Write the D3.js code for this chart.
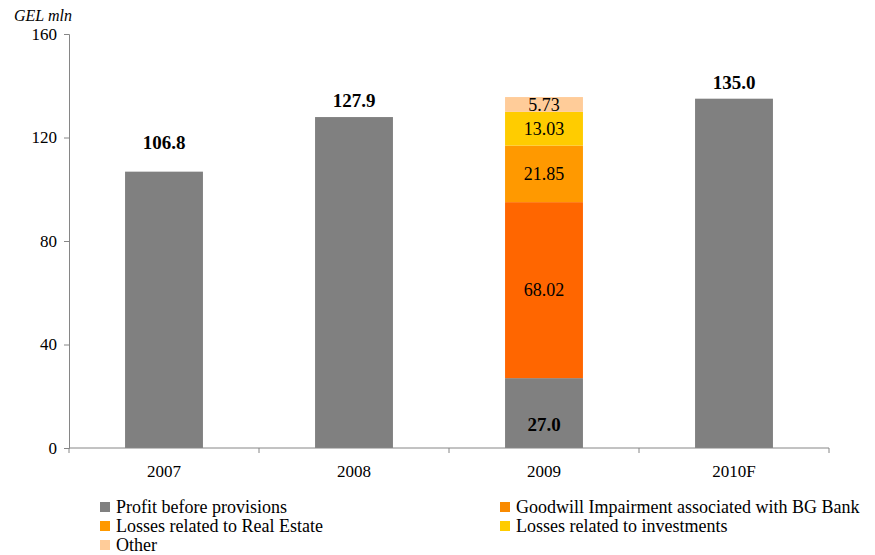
<!DOCTYPE html>
<html><head><meta charset="utf-8">
<script src="https://cdn.jsdelivr.net/npm/d3@7/dist/d3.min.js"></script>
<style>
body{margin:0;background:#fff;}
</style></head>
<body><svg id="chart" width="875" height="555"></svg>
<script>
// ---- data ----
const categories = ["2007","2008","2009","2010F"];
const profitBeforeProvisions = [106.8, 127.9, 27.0, 135.0];
const goodwillImpairment = [0, 0, 68.02, 0];
const lossesRealEstate = [0, 0, 21.85, 0];
const lossesInvestments = [0, 0, 13.03, 0];
const otherLosses = [0, 0, 5.73, 0];
const seriesNames = ["Profit before provisions","Goodwill Impairment associated with BG Bank","Losses related to Real Estate","Losses related to investments","Other"];
const yTicks = [0, 40, 80, 120, 160];
const totalLabels = ["106.8","127.9","27.0","135.0"];

// ---- style ----
const FONT = "'Liberation Serif', 'Times New Roman', Times, serif";
const barColors = ["#808080","#FF6600","#FF9900","#FFCC00","#FFCC99"];
const legendColors = ["#808080","#F98A00","#FF9900","#FFCC00","#FFCC99"];
const labelGap = [23, 10, 0, 10];

const svg = d3.select("#chart");
const margin = {left:69, top:34, right:46, bottom:107};
const W = 875, H = 555;
const x = d3.scaleBand().domain(categories).range([margin.left, margin.left + 760]).paddingInner(0.59).paddingOuter(0.295);
const y = d3.scaleLinear().domain([0,160]).range([H - margin.bottom, margin.top]);

const seriesArrays = [profitBeforeProvisions, goodwillImpairment, lossesRealEstate, lossesInvestments, otherLosses];
const rows = categories.map((c,i)=>{const r={cat:c}; seriesNames.forEach((s,j)=>r[s]=seriesArrays[j][i]); return r;});
const stack = d3.stack().keys(seriesNames)(rows);

// bars
stack.forEach((layer,j)=>{
  svg.append("g").selectAll("rect").data(layer.filter(d=>d[1]-d[0]>0)).join("rect")
    .attr("x", d=>x(d.data.cat)).attr("width", x.bandwidth())
    .attr("y", d=>y(d[1])).attr("height", d=>y(d[0])-y(d[1]))
    .attr("fill", barColors[j]);
});

// segment labels (2009 losses)
stack.slice(1).forEach(layer=>{
  svg.append("g").selectAll("text").data(layer.filter(d=>d[1]-d[0]>0)).join("text")
    .attr("x", d=>x(d.data.cat)+x.bandwidth()/2)
    .attr("y", d=>(y(d[0])+y(d[1]))/2)
    .attr("dy","0.35em").attr("text-anchor","middle")
    .style("font-family",FONT).style("font-size","18px")
    .text(d=>(d[1]-d[0]).toFixed(2));
});

// total labels
svg.append("g").selectAll("text").data(categories).join("text")
  .attr("x", c=>x(c)+x.bandwidth()/2)
  .attr("y", (c,i)=> c==="2009" ? y(0)-17 : y(profitBeforeProvisions[i]) - labelGap[i])
  .attr("text-anchor","middle")
  .style("font-family",FONT).style("font-size","19px").style("font-weight","bold")
  .text((c,i)=>totalLabels[i]);

// y axis
const yAxis = svg.append("g").attr("transform",`translate(${margin.left},0)`)
  .call(d3.axisLeft(y).tickValues(yTicks).tickSize(5).tickPadding(7));
yAxis.select(".domain").attr("stroke","#868686");
yAxis.selectAll(".tick line").attr("stroke","#868686");
yAxis.selectAll("text").style("font-family",FONT).style("font-size","17px").attr("fill","#000");

// x axis
const xAxisG = svg.append("g").attr("transform",`translate(0,${y(0)})`);
xAxisG.append("line").attr("x1",margin.left).attr("x2",margin.left+760).attr("stroke","#868686");
const step = x.step();
const start = x(categories[0]) - x.paddingOuter()*step;
d3.range(categories.length+1).forEach(i=>{
  xAxisG.append("line").attr("x1",start+i*step).attr("x2",start+i*step).attr("y1",0).attr("y2",5).attr("stroke","#868686");
});
xAxisG.selectAll("text.cat").data(categories).join("text").attr("class","cat")
  .attr("x", c=>x(c)+x.bandwidth()/2).attr("y",29).attr("text-anchor","middle")
  .style("font-family",FONT).style("font-size","17px")
  .text(c=>c);

// unit
svg.append("text").attr("x",14).attr("y",21)
  .style("font-family",FONT).style("font-size","16px").style("font-style","italic").text("GEL mln");

// legend
const legPos = [[100,507],[500,507],[100,526],[500,526],[100,545]];
const lg = svg.append("g");
seriesNames.forEach((name,s)=>{
  const [lx,ly] = legPos[s];
  lg.append("rect").attr("x",lx).attr("y",ly-5).attr("width",10).attr("height",10).attr("fill",legendColors[s]);
  lg.append("text").attr("x",lx+16).attr("y",ly).attr("dy","0.35em")
    .style("font-family",FONT).style("font-size","18px").text(name);
});
</script></body></html>
